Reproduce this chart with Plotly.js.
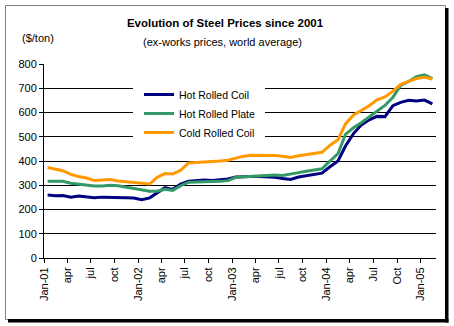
<!DOCTYPE html>
<html>
<head>
<meta charset="utf-8">
<script src="https://cdn.plot.ly/plotly-3.0.1.min.js"></script>
<style>html,body{margin:0;padding:0;background:#fff;}#chart{width:454px;height:326px;}</style>
</head>
<body>
<div id="chart"></div>
<script>
const months = ['2001-01-15','2001-02-15','2001-03-15','2001-04-15','2001-05-15','2001-06-15','2001-07-15','2001-08-15','2001-09-15','2001-10-15','2001-11-15','2001-12-15',
'2002-01-15','2002-02-15','2002-03-15','2002-04-15','2002-05-15','2002-06-15','2002-07-15','2002-08-15','2002-09-15','2002-10-15','2002-11-15','2002-12-15',
'2003-01-15','2003-02-15','2003-03-15','2003-04-15','2003-05-15','2003-06-15','2003-07-15','2003-08-15','2003-09-15','2003-10-15','2003-11-15','2003-12-15',
'2004-01-15','2004-02-15','2004-03-15','2004-04-15','2004-05-15','2004-06-15','2004-07-15','2004-08-15','2004-09-15','2004-10-15','2004-11-15','2004-12-15',
'2005-01-15','2005-02-15'];
const hotRolledCoil = [260,257,258,251,256,253,248,251,251,248,248,247,
 240,248,268,290,283,305,317,321,322,320,322,326,
 334,336,336,336,335,333,328,324,334,340,344,350,
 376,400,462,513,548,570,584,583,628,642,650,647,651,636];
const hotRolledPlate = [317,317,316,308,304,298,297,297,300,298,292,288,
 280,275,275,283,279,298,312,314,315,315,316,319,
 333,335,337,340,342,342,340,345,352,358,362,368,
 400,430,510,537,558,582,608,629,663,712,728,748,755,740];
const coldRolledCoil = [373,366,360,345,336,330,320,322,324,318,314,311,
 306,305,332,348,346,362,392,393,395,398,400,403,
 412,420,424,424,424,423,420,415,422,426,430,436,
 465,488,553,590,608,628,652,664,688,716,728,740,745,738];
const seriesNames = ['Hot Rolled Coil','Hot Rolled Plate','Cold Rolled Coil'];
const seriesColors = ['#000080','#339966','#FF9900'];
const tickDates = ['2001-01-01','2001-04-01','2001-07-01','2001-10-01','2002-01-01','2002-04-01','2002-07-01','2002-10-01',
 '2003-01-01','2003-04-01','2003-07-01','2003-10-01','2004-01-01','2004-04-01','2004-07-01','2004-10-01','2005-01-01'];
const tickLabels = ['Jan-01','apr','jul','oct','Jan-02','apr','jul','oct','Jan-03','apr','jul','oct','Jan-04','apr','Jul','Oct','Jan-05'];

const F = 'Arial, "Liberation Sans", sans-serif';
const values = [hotRolledCoil, hotRolledPlate, coldRolledCoil];
const data = values.map((v,i)=>({
  x: months, y: v, type:'scatter', mode:'lines', name: seriesNames[i],
  line:{color: seriesColors[i], width:3}
}));

// pixel -> paper helpers (plot area: x 44..436, y 64..258)
const px = p => (p-44)/392;
const py = p => (258-p)/194;

const layout = {
  width:454, height:326,
  margin:{l:44, r:18, t:64, b:68},
  paper_bgcolor:'#fff', plot_bgcolor:'#fff',
  font:{family:F, size:11, color:'#000'},
  title:{text:'<b>Evolution of Steel Prices since 2001</b>', font:{family:F, size:11.5, color:'#000'},
    x:225/454, xanchor:'center', y:1-22.5/326, yanchor:'middle', xref:'container', yref:'container'},
  xaxis:{type:'date', range:['2001-01-01','2005-03-01'], tickmode:'array', tickvals:tickDates, ticktext:tickLabels,
    tickangle:-90, ticks:'outside', ticklen:4, tickcolor:'#000', showline:true, linecolor:'#000', linewidth:1,
    showgrid:false, zeroline:false, tickfont:{family:F, size:11, color:'#000'}, fixedrange:true},
  yaxis:{range:[0,800], dtick:100, tick0:0, ticks:'outside', ticklen:4, tickcolor:'#000', showline:true,
    linecolor:'#000', linewidth:1, showgrid:true, gridcolor:'#000', gridwidth:1, zeroline:false,
    tickfont:{family:F, size:11, color:'#000'}, fixedrange:true},
  showlegend:true,
  legend:{x:px(139), y:py(80), xanchor:'left', yanchor:'top', bgcolor:'rgba(255,255,255,0)', borderwidth:0,
    font:{family:F, size:10.5, color:'#000'}, itemwidth:30, tracegroupgap:0},
  annotations:[
    {text:'(ex-works prices, world average)', xref:'paper', yref:'paper', x:px(222.5), y:py(42.5),
     xanchor:'center', yanchor:'middle', showarrow:false, font:{family:F, size:11, color:'#000'}},
    {text:'($/ton)', xref:'paper', yref:'paper', x:px(37.5), y:py(37.5),
     xanchor:'center', yanchor:'middle', showarrow:false, font:{family:F, size:11, color:'#000'}}
  ],
  shapes:[
    {type:'rect', xref:'paper', yref:'paper', x0:px(133), x1:px(265), y0:py(84), y1:py(146),
     line:{width:0}, fillcolor:'#fff', layer:'above'},
    {type:'rect', xref:'paper', yref:'paper', x0:px(5.5), x1:px(445.5), y0:py(5.5), y1:py(319.5),
     line:{color:'#808080', width:1}, fillcolor:'rgba(0,0,0,0)', layer:'below'},
    {type:'rect', xref:'paper', yref:'paper', x0:px(445), x1:px(448.5), y0:py(8), y1:py(322.5),
     line:{width:0}, fillcolor:'#000'},
    {type:'rect', xref:'paper', yref:'paper', x0:px(8), x1:px(448.5), y0:py(319), y1:py(322.5),
     line:{width:0}, fillcolor:'#000'}
  ]
};
Plotly.newPlot('chart', data, layout, {displayModeBar:false, staticPlot:true});
</script>
</body>
</html>
